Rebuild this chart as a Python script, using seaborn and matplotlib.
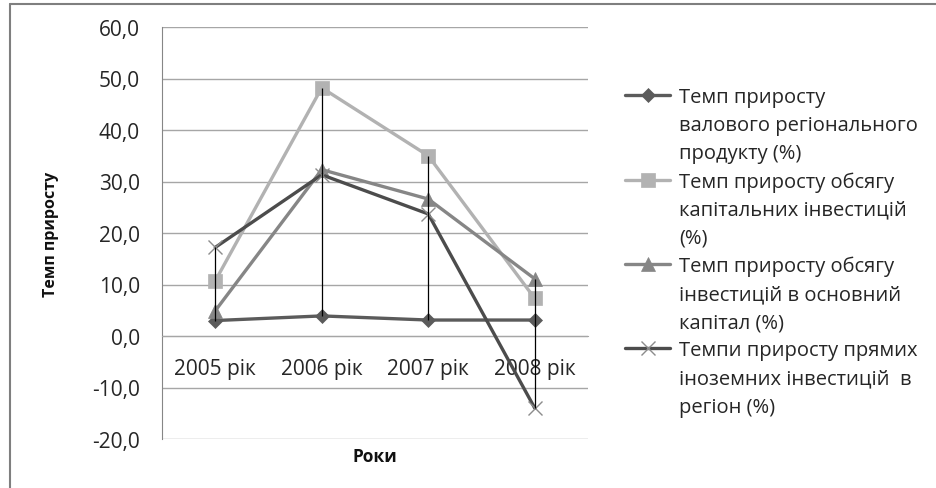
import numpy as np
import pandas as pd
import seaborn as sns
import matplotlib.pyplot as plt
from matplotlib.lines import Line2D

years = ['2005 рік', '2006 рік', '2007 рік', '2008 рік']
grp = [3.0, 3.9, 3.1, 3.1]
cap_inv = [10.7, 48.2, 35.0, 7.3]
fixed_inv = [4.9, 32.3, 26.6, 11.1]
fdi = [17.2, 31.3, 23.7, -14.0]

legend_lines = [
    ['Темп приросту', 'валового регіонального', 'продукту (%)'],
    ['Темп приросту обсягу', 'капітальних інвестицій', '(%)'],
    ['Темп приросту обсягу', 'інвестицій в основний', 'капітал (%)'],
    ['Темпи приросту прямих', 'іноземних інвестицій  в', 'регіон (%)'],
]

sns.set_style("white")
plt.rcParams['font.family'] = ['Open Sans', 'DejaVu Sans']

# colour, marker, marker size, marker edge colour
styles = [
    ('#5b5b5b', 'D', 7.5, '#5b5b5b'),
    ('#b2b2b2', 's', 10, '#b2b2b2'),
    ('#868686', '^', 10, '#868686'),
    ('#4c4c4c', 'x', 10, '#8c8c8c'),
]

fig = plt.figure(figsize=(9.36, 4.89), dpi=100)
ax = fig.add_axes([162/936, 1 - 440/489, 426/936, 412/489])

series = [grp, cap_inv, fixed_inv, fdi]
for vals, (c, m, ms, mec) in zip(series, styles):
    sns.lineplot(x=years, y=vals, ax=ax, color=c, lw=2.4, marker=m, ms=ms,
                 mec=mec, mfc=mec, mew=1.0 if m == 'x' else 0.5,
                 sort=False, legend=False, zorder=3)

# high-low lines
df = pd.DataFrame({'grp': grp, 'cap': cap_inv, 'fix': fixed_inv, 'fdi': fdi}, index=years)
ax.vlines(years, df.min(axis=1), df.max(axis=1), color='black', lw=0.9, zorder=4)

ax.set_xlim(-0.5, 3.5)
ax.set_ylim(-20, 60)
yt = np.arange(-20, 61, 10)
ax.set_yticks(yt)
ax.set_yticklabels([f"{v:.1f}".replace('.', ',') for v in yt])
ax.yaxis.grid(True, color='#a6a6a6', lw=1)
ax.set_axisbelow(True)

for s in ['top', 'right']:
    ax.spines[s].set_visible(False)
ax.spines['left'].set_color('#868686')
ax.spines['bottom'].set_position(('data', 0))
ax.spines['bottom'].set_color('#a6a6a6')

ax.tick_params(axis='x', length=0, pad=16, labelsize=15, labelcolor='#262626')
ax.tick_params(axis='y', length=6, width=1, color='#868686', pad=10,
               labelsize=15, labelcolor='#262626')

ax.set_ylabel('Темп приросту', fontsize=11.5, fontweight='bold', color='#111111')
ax.yaxis.set_label_coords(-0.242, 0.5)
ax.set_xlabel('Роки', fontsize=12.5, fontweight='bold', color='#111111')
ax.xaxis.set_label_coords(0.5, -0.019)

handles, labels = [], []
for lines, (c, m, ms, mec) in zip(legend_lines, styles):
    handles.append(Line2D([0], [0], color=c, lw=2.4, marker=m, ms=ms, mec=mec,
                          mfc=mec, mew=1.0 if m == 'x' else 0.5))
    labels.append(lines[0])
    for extra in lines[1:]:
        handles.append(Line2D([], [], lw=0))
        labels.append(extra)

fig.legend(handles, labels, loc='upper left', bbox_to_anchor=(625/936, 1 - 88/489),
           frameon=False, fontsize=14.5, handlelength=2.25, handletextpad=0.42,
           labelspacing=0.40, borderpad=0, borderaxespad=0, labelcolor='#262626')

# outer chart frame
fig.add_artist(Line2D([10/936, 1], [1 - 4.5/489] * 2, transform=fig.transFigure,
                      color='#7f7f7f', lw=1.5))
fig.add_artist(Line2D([10/936] * 2, [0, 1 - 4.5/489], transform=fig.transFigure,
                      color='#7f7f7f', lw=1.5))

fig.savefig('out.png', dpi=100)
